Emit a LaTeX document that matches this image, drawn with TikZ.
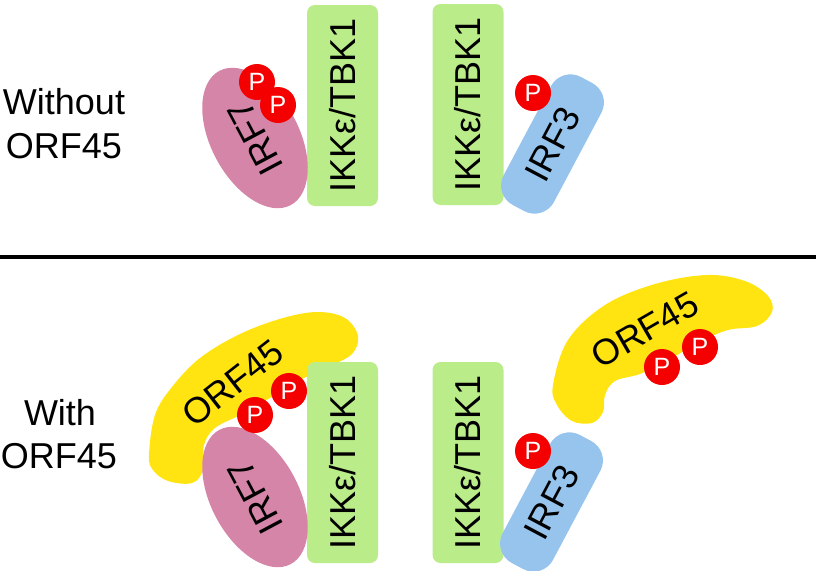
\documentclass[tikz,border=0pt]{standalone}
\usepackage{fontspec}
\setmainfont{Liberation Sans}
\usetikzlibrary{shapes.geometric}
\definecolor{kgreen}{RGB}{186,236,138}
\definecolor{kpink}{RGB}{213,134,168}
\definecolor{kblue}{RGB}{150,196,237}
\definecolor{kyellow}{RGB}{255,228,18}
\definecolor{kred}{RGB}{245,0,0}
\begin{document}
\begin{tikzpicture}[x=1pt,y=-1pt,
  big/.style={font=\fontsize{36}{44}\selectfont},
  kinase/.style={big, fill=kgreen, rounded corners=8pt, minimum width=201pt, minimum height=71pt, rotate=90, inner sep=0pt},
  irfseven/.style={big, ellipse, fill=kpink, minimum width=152pt, minimum height=88pt, rotate=118, inner sep=0pt},
  irfthree/.style={big, fill=kblue, rounded corners=22pt, minimum width=145pt, minimum height=57pt, rotate=62, inner sep=0pt},
  phos/.style={circle, fill=kred, minimum size=36pt, inner sep=0pt, text=white, font=\fontsize{25}{25}\selectfont},
  orf/.style={fill=kyellow},
  lbl/.style={big, anchor=base}]
\useasboundingbox (0,0) rectangle (816,570);
% divider
\coordinate (dl) at (0,257);
\coordinate (dr) at (816,257);
\draw[line width=4pt] (dl) -- (dr);
% side labels
\node[lbl] (w1) at (64,114) {Without};
\node[lbl] (w2) at (64,158) {ORF45};
\node[lbl] (v1) at (60,425) {With};
\node[lbl] (v2) at (59,468) {ORF45};
% ORF45 shapes
\fill[orf] plot[smooth cycle, tension=0.6] coordinates {(149,455) (155,415) (172,387) (200,358) (240,334) (283,318) (318,312) (345,318) (358,336) (352,354) (330,366) (300,380) (270,398) (240,415) (215,428) (204,445) (203,470) (192,483) (168,481) (153,470)};
\fill[orf] plot[smooth cycle, tension=0.6] coordinates {(553,385) (568,340) (605,305) (655,284) (707,275) (745,281) (768,296) (772,312) (757,326) (728,330) (700,342) (665,362) (640,374) (615,381) (605,395) (603,412) (592,423) (572,421) (557,405)};
\node[big, rotate=38] (orfl) at (233,383) {ORF45};
\node[big, rotate=30] (orfr) at (645,330) {ORF45};
% kinases
\node[kinase] (k1) at (342.5,105.5) {IKKε/TBK1};
\node[kinase] (k2) at (468,104.5) {IKKε/TBK1};
\node[kinase] (k3) at (342.5,462.5) {IKKε/TBK1};
\node[kinase] (k4) at (468,462.5) {IKKε/TBK1};
% IRF7
\node[irfseven] (i7a) at (255,138) {IRF7};
\node[irfseven] (i7b) at (255,497) {IRF7};
% IRF3
\node[irfthree] (i3a) at (552.5,144) {IRF3};
\node[irfthree] (i3b) at (551.5,502) {IRF3};
% phosphates
\node[phos] (pa1) at (257,82) {P};
\node[phos] (pa2) at (278,105) {P};
\node[phos] (pa3) at (533,93) {P};
\node[phos] (pb1) at (255,415) {P};
\node[phos] (pb2) at (289,391) {P};
\node[phos] (pb3) at (533,451) {P};
\node[phos] (pb4) at (662,367) {P};
\node[phos] (pb5) at (700,347) {P};
\end{tikzpicture}
\end{document}
